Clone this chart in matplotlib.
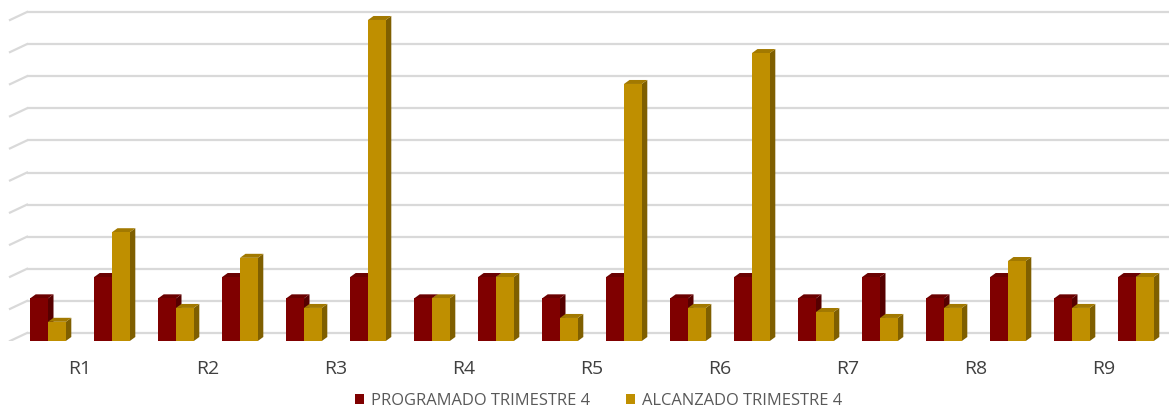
import matplotlib
matplotlib.use("Agg")
import matplotlib.pyplot as plt
from matplotlib.patches import Rectangle, Polygon, Patch

# ---- data ----
groups = ["R1", "R2", "R3", "R4", "R5", "R6", "R7", "R8", "R9"]
programado = [2, 3, 2, 3, 2, 3, 2, 3, 2, 3, 2, 3, 2, 3, 2, 3, 2, 3]
alcanzado = [0.9, 5.1, 1.55, 3.9, 1.55, 15.05, 2, 3, 1.08, 12.05,
             1.55, 13.5, 1.36, 1.08, 1.55, 3.75, 1.55, 3]
series_names = ["PROGRAMADO TRIMESTRE 4", "ALCANZADO TRIMESTRE 4"]

# ---- style ----
W, H, DPI = 1169, 410, 100
px_x = 64.0          # pixels per category
px_y = 21.33         # pixels per value unit
zero_px = 342        # pixel row (from top) of value 0
first_px = 48        # pixel column of first category centre

red = ("#7F0000", "#560000", "#6A0000")
gold = ("#BF8F00", "#7F5F00", "#A27900")
grid_col = "#D9D9D9"

fig = plt.figure(figsize=(W / DPI, H / DPI), dpi=DPI)
ax = fig.add_axes([0, (H - zero_px) / H, 1, zero_px / H])
ax.set_xlim(-first_px / px_x, (W - first_px) / px_x)
ax.set_ylim(0, zero_px / px_y)
ax.set_clip_on(False)
for s in ax.spines.values():
    s.set_visible(False)

# back-wall gridlines with the floor diagonal on the left
back_dy = 8 / px_y
grid_step = 32.1 / px_y
x_wall = (27 - first_px) / px_x
x_front = (10 - first_px) / px_x
for k in range(11):
    g = back_dy + k * grid_step
    ax.plot([x_wall, ax.get_xlim()[1]], [g, g], color=grid_col, lw=1.6,
            solid_capstyle="butt", zorder=1)
    ax.plot([x_front, x_wall], [g - back_dy, g], color=grid_col, lw=1.6, zorder=1)

bw = 17.8 / px_x
dx = 5.5 / px_x
dy = 4.0 / px_y


def bar3d(x0, h, cols):
    front, side, top = cols
    ax.add_patch(Polygon([(x0 + bw, 0), (x0 + bw + dx, dy), (x0 + bw + dx, h + dy), (x0 + bw, h)],
                         closed=True, facecolor=side, edgecolor="none", zorder=3, clip_on=False))
    ax.add_patch(Polygon([(x0, h), (x0 + dx, h + dy), (x0 + bw + dx, h + dy), (x0 + bw, h)],
                         closed=True, facecolor=top, edgecolor="none", zorder=3, clip_on=False))
    ax.add_patch(Rectangle((x0, 0), bw, h, facecolor=front, edgecolor="none", zorder=3,
                           clip_on=False))


for i, (p, a) in enumerate(zip(programado, alcanzado)):
    bar3d(i - bw, p, red)
    bar3d(i, a, gold)

# group labels centred on each pair of categories
ax.set_xticks([2 * j + 0.5 for j in range(len(groups))])
ax.set_xticklabels(groups, fontsize=14, color="#404040", family="Open Sans")
ax.tick_params(axis="x", length=0, pad=13)
ax.set_yticks([])

handles = [Patch(facecolor=red[0], edgecolor="none"), Patch(facecolor=gold[0], edgecolor="none")]
leg = fig.legend(handles, series_names, loc="lower center", bbox_to_anchor=(0.512, -0.035),
                 ncol=2, frameon=False, handlelength=0.55, handleheight=0.55,
                 handletextpad=0.4, columnspacing=2.2,
                 prop={"family": "Open Sans", "size": 11.9})
for t in leg.get_texts():
    t.set_color("#595959")

fig.savefig("out.png", dpi=DPI)
